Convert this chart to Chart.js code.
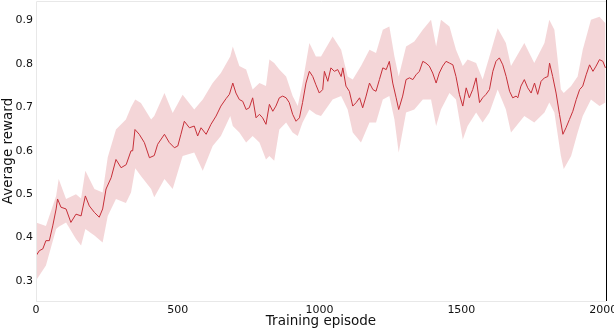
<!DOCTYPE html>
<html>
<head>
<meta charset="utf-8">
<script src="https://cdn.jsdelivr.net/npm/chart.js@4/dist/chart.umd.min.js"></script>
<style>
html,body{margin:0;padding:0;background:#fff;}
#c{display:block;}
</style>
</head>
<body>
<canvas id="c" width="614" height="330"></canvas>
<script>
// ---- data ----
const meanEpisodes = [0,12,24,35,47,59,71,76,88,106,123,141,159,174,188,206,223,235,247,265,282,300,318,335,341,349,364,382,400,417,429,453,470,488,500,511,523,541,558,570,582,600,617,635,652,670,682,694,705,717,729,741,752,764,776,788,799,811,823,835,846,858,870,882,893,905,917,929,940,952,964,976,987,999,1011,1017,1029,1040,1052,1064,1076,1082,1093,1105,1117,1129,1141,1152,1164,1176,1188,1199,1211,1223,1235,1246,1258,1270,1279,1293,1305,1317,1329,1340,1352,1364,1375,1387,1399,1411,1422,1434,1446,1458,1470,1481,1493,1505,1517,1528,1540,1552,1564,1575,1587,1599,1611,1622,1634,1646,1658,1670,1681,1693,1699,1710,1722,1734,1746,1758,1769,1781,1793,1805,1811,1822,1834,1846,1858,1869,1881,1893,1905,1917,1928,1940,1952,1964,1975,1987,1999,2008];
const meanReward = [0.358,0.370,0.374,0.393,0.393,0.427,0.466,0.489,0.470,0.466,0.435,0.454,0.450,0.496,0.473,0.458,0.447,0.466,0.512,0.538,0.580,0.561,0.568,0.600,0.600,0.649,0.638,0.619,0.584,0.589,0.615,0.638,0.619,0.607,0.611,0.638,0.668,0.653,0.657,0.634,0.653,0.638,0.661,0.680,0.703,0.720,0.730,0.756,0.733,0.718,0.714,0.695,0.699,0.722,0.676,0.684,0.676,0.661,0.707,0.691,0.703,0.722,0.726,0.722,0.711,0.684,0.668,0.676,0.711,0.756,0.783,0.771,0.752,0.733,0.741,0.783,0.760,0.791,0.783,0.787,0.771,0.791,0.749,0.737,0.703,0.711,0.722,0.699,0.726,0.756,0.741,0.737,0.764,0.791,0.787,0.806,0.756,0.722,0.695,0.726,0.764,0.768,0.764,0.775,0.783,0.806,0.802,0.795,0.779,0.756,0.779,0.795,0.806,0.802,0.798,0.771,0.730,0.703,0.745,0.722,0.741,0.768,0.711,0.722,0.730,0.741,0.783,0.806,0.814,0.798,0.771,0.737,0.722,0.726,0.722,0.749,0.764,0.745,0.733,0.756,0.730,0.760,0.768,0.771,0.802,0.771,0.733,0.684,0.638,0.653,0.672,0.691,0.718,0.741,0.749,0.775,0.798,0.783,0.795,0.810,0.806,0.791];

const bandEpisodes = [0,35,71,80,106,141,159,174,206,235,253,282,317,335,350,370,406,417,453,482,517,558,588,623,652,685,694,717,741,764,788,811,823,840,858,882,905,923,940,964,987,1005,1046,1076,1099,1117,1146,1176,1199,1223,1246,1264,1279,1305,1334,1364,1393,1411,1428,1458,1481,1505,1522,1552,1575,1599,1628,1657,1675,1722,1757,1793,1810,1828,1851,1861,1887,1910,1928,1957,1987,2008];
const bandUpper = [0.435,0.427,0.496,0.535,0.489,0.500,0.490,0.554,0.512,0.504,0.585,0.649,0.672,0.700,0.718,0.710,0.672,0.680,0.733,0.687,0.729,0.695,0.718,0.756,0.779,0.817,0.840,0.795,0.787,0.741,0.756,0.749,0.810,0.802,0.787,0.771,0.726,0.703,0.756,0.848,0.817,0.817,0.863,0.833,0.771,0.764,0.795,0.833,0.825,0.879,0.886,0.817,0.771,0.840,0.852,0.879,0.902,0.840,0.902,0.886,0.833,0.795,0.810,0.802,0.764,0.817,0.882,0.848,0.795,0.848,0.802,0.848,0.902,0.879,0.741,0.733,0.749,0.771,0.833,0.902,0.909,0.894];
const bandLower = [0.301,0.336,0.420,0.425,0.435,0.397,0.382,0.420,0.405,0.389,0.450,0.489,0.480,0.504,0.560,0.542,0.512,0.493,0.535,0.512,0.588,0.596,0.554,0.611,0.634,0.680,0.657,0.642,0.619,0.634,0.619,0.580,0.588,0.577,0.649,0.665,0.642,0.634,0.665,0.695,0.684,0.680,0.718,0.726,0.695,0.642,0.619,0.665,0.665,0.718,0.726,0.672,0.596,0.688,0.695,0.718,0.718,0.657,0.695,0.733,0.718,0.626,0.657,0.688,0.665,0.688,0.741,0.695,0.642,0.680,0.665,0.688,0.711,0.688,0.588,0.558,0.588,0.642,0.680,0.718,0.703,0.711];

const xTicks = [0,500,1000,1500,2000];
const yTicks = [0.3,0.4,0.5,0.6,0.7,0.8,0.9];
const xTitle = 'Training episode';
const yTitle = 'Average reward';

const toPts = (xs, ys) => xs.map((x, i) => ({x: x, y: ys[i]}));

const framePlugin = {
  id: 'frame',
  afterDatasetsDraw(chart) {
    const {ctx, chartArea: a} = chart;
    ctx.save();
    ctx.lineWidth = 1;
    ctx.strokeStyle = '#e8e8e8';
    ctx.beginPath();
    ctx.moveTo(a.left + 0.5, a.bottom + 0.5);
    ctx.lineTo(a.left + 0.5, a.top + 0.5);
    ctx.lineTo(a.right, a.top + 0.5);
    ctx.moveTo(a.left, a.bottom + 0.5);
    ctx.lineTo(a.right, a.bottom + 0.5);
    ctx.stroke();
    ctx.strokeStyle = '#000';
    ctx.beginPath();
    ctx.moveTo(a.right + 0.5, a.top - 1);
    ctx.lineTo(a.right + 0.5, a.bottom);
    ctx.stroke();
    ctx.restore();
  }
};

new Chart(document.getElementById('c'), {
  type: 'line',
  data: {
    datasets: [
      {
        label: 'mean',
        data: toPts(meanEpisodes, meanReward),
        borderColor: '#c62f38',
        borderWidth: 1,
        pointRadius: 0,
        tension: 0,
        fill: false
      },
      {
        label: 'lower',
        data: toPts(bandEpisodes, bandLower),
        borderWidth: 0,
        borderColor: 'rgba(0,0,0,0)',
        pointRadius: 0,
        tension: 0,
        fill: false
      },
      {
        label: 'upper',
        data: toPts(bandEpisodes, bandUpper),
        borderWidth: 0,
        borderColor: 'rgba(0,0,0,0)',
        backgroundColor: 'rgba(210,90,100,0.25)',
        pointRadius: 0,
        tension: 0,
        fill: '-1'
      }
    ]
  },
  options: {
    responsive: false,
    animation: false,
    devicePixelRatio: 1,
    layout: {padding: {left: 0, top: 1, right: 8, bottom: 0}},
    plugins: {legend: {display: false}, tooltip: {enabled: false}},
    scales: {
      x: {
        type: 'linear',
        min: 0,
        max: 2010,
        grid: {display: false, drawTicks: false},
        border: {display: false},
        afterBuildTicks: s => { s.ticks = xTicks.map(v => ({value: v})); },
        afterFit: s => { s.height = 29; s.paddingLeft = 0; s.paddingRight = 0; },
        ticks: {
          padding: 3,
          color: '#111',
          font: {family: 'DejaVu Sans', size: 11},
          maxRotation: 0,
          callback: v => String(v)
        },
        title: {
          display: true,
          text: xTitle,
          color: '#111',
          font: {family: 'DejaVu Sans', size: 13.5},
          padding: {top: 0, bottom: 0}
        }
      },
      y: {
        type: 'linear',
        min: 0.254,
        max: 0.945,
        grid: {display: false, drawTicks: false},
        border: {display: false},
        afterBuildTicks: s => { s.ticks = yTicks.map(v => ({value: v})); },
        afterFit: s => { s.width = 36; s.paddingTop = 0; s.paddingBottom = 0; },
        ticks: {
          padding: 3,
          color: '#111',
          font: {family: 'DejaVu Sans', size: 11},
          callback: v => v.toFixed(1)
        },
        title: {
          display: true,
          text: yTitle,
          color: '#111',
          font: {family: 'DejaVu Sans', size: 13.5},
          padding: {top: 0, bottom: 0}
        }
      }
    }
  },
  plugins: [framePlugin]
});
</script>
</body>
</html>
